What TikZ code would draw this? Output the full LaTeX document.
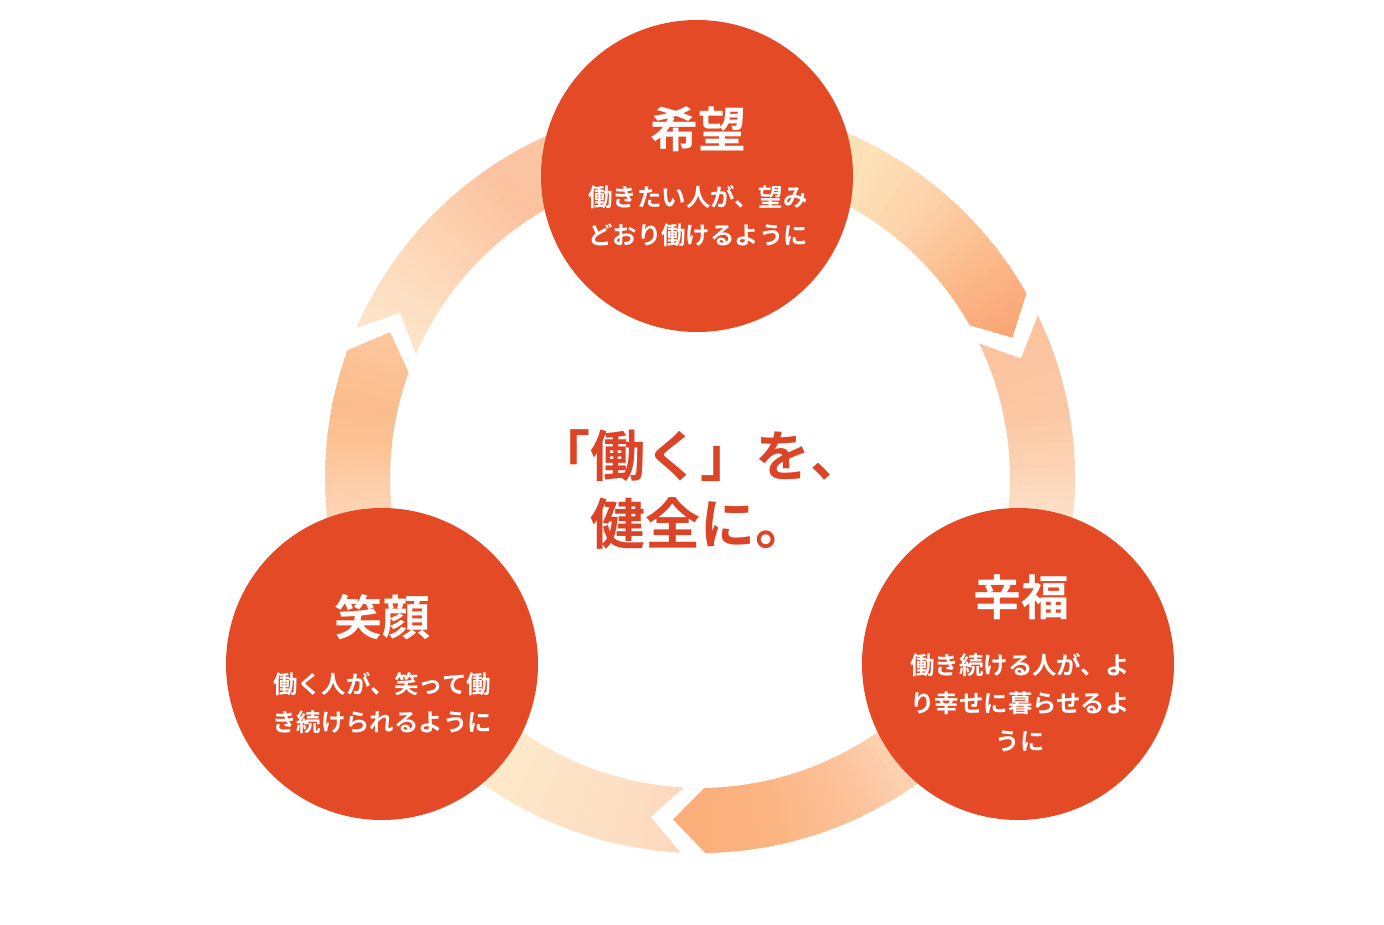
\documentclass[tikz,border=0pt]{standalone}
\usepackage{fontspec}
\setmainfont{Noto Sans CJK JP}[BoldFont={Noto Sans CJK JP Bold}]
\definecolor{circred}{HTML}{E34A25}
\definecolor{textred}{HTML}{DC4428}
% seg1 stops
\definecolor{aA}{HTML}{FDE6CC}\definecolor{aB}{HTML}{FDDCBE}\definecolor{aC}{HTML}{FCCDAA}\definecolor{aD}{HTML}{FBC29F}
\definecolor{aE}{HTML}{FDE1B7}\definecolor{aF}{HTML}{FDD2AA}\definecolor{aG}{HTML}{FCBB8B}\definecolor{aH}{HTML}{F9A273}
% seg2 stops
\definecolor{bA}{HTML}{FBC29E}\definecolor{bB}{HTML}{FCC8A4}\definecolor{bC}{HTML}{FDD5B7}\definecolor{bD}{HTML}{FDE0C8}
\definecolor{bE}{HTML}{FDD8BA}\definecolor{bF}{HTML}{FCC29A}\definecolor{bG}{HTML}{FBB37F}\definecolor{bH}{HTML}{FBAE7A}
% seg3 stops
\definecolor{cA}{HTML}{FDD6BA}\definecolor{cB}{HTML}{FDDFC3}\definecolor{cC}{HTML}{FDE8CA}\definecolor{cD}{HTML}{FDD3B2}
\definecolor{cE}{HTML}{FCC294}\definecolor{cF}{HTML}{FBBD8C}\definecolor{cG}{HTML}{FCC8A1}
\newcommand\ringseg[2]{plot[domain=#1:#2,samples=90] ({700+375*cos(\x)},{478+375*sin(\x)})
  -- ({700+342.5*cos(#2+5.3)},{478+342.5*sin(#2+5.3)})
  -- plot[domain=#2:#1,samples=90] ({700+310*cos(\x)},{478+310*sin(\x)})
  -- ({700+342.5*cos(#1+5.3)},{478+342.5*sin(#1+5.3)}) -- cycle}
\newcommand\ringfill[1]{%
  \foreach \a/\b/\ca/\cb in {#1}{%
    \foreach \t in {\a,...,\b}{%
      \pgfmathsetmacro\p{100*(\b-\t)/(\b-\a)}%
      \fill[\ca!\p!\cb] (700,478) -- ({700+400*cos(\t-0.7)},{478+400*sin(\t-0.7)})
        -- ({700+400*cos(\t+0.7)},{478+400*sin(\t+0.7)}) -- cycle;
    }%
  }%
}
\begin{document}
\begin{tikzpicture}[x=1pt,y=-1pt,
  circ/.style={circle,fill=circred,minimum size=312pt,inner sep=0pt},
  ttl/.style={text=white,font=\fontsize{48}{56}\selectfont\bfseries,inner sep=0pt},
  subtxt/.style={text=white,font=\fontsize{24.4}{38}\selectfont\bfseries,align=center,inner sep=0pt},
  ctr/.style={text=textred,font=\fontsize{55}{68}\selectfont\bfseries,align=center,inner sep=0pt}]
\useasboundingbox[fill=white] (0,0) rectangle (1384,924);
% ring segment 1 (left chevron -> over top -> top-right chevron)
\begin{scope}
  \clip \ringseg{203.6}{330.5};
  \ringfill{203/215/aA/aB,215/228/aB/aC,228/237/aC/aD,237/298/aD/aE,298/310/aE/aF,310/322/aF/aG,322/337/aG/aH}
\end{scope}
% ring segment 2 (top-right chevron -> right -> bottom chevron)
\begin{scope}
  \clip \ringseg{334.3}{449.2};
  \ringfill{334/350/bA/bB,350/360/bB/bC,360/366/bC/bD,366/412/bD/bE,412/425/bE/bF,425/440/bF/bG,440/456/bG/bH}
\end{scope}
% ring segment 3 (bottom chevron -> left -> left chevron)
\begin{scope}
  \clip \ringseg{93.0}{199.9};
  \ringfill{92/105/cA/cB,105/124/cB/cC,124/176/cC/cD,176/186/cD/cE,186/192/cE/cF,192/207/cF/cG}
\end{scope}
% circles
\node[circ] (kibo) at (697,176) {};
\node[circ] (kofuku) at (1018,664) {};
\node[circ] (egao) at (382,664) {};
% texts
\node[ttl] (kiboT) at (698,129) {希望};
\node[subtxt] (kiboS) at (698,216) {働きたい人が、望み\\どおり働けるように};
\node[ttl] (kofukuT) at (1021,597) {辛福};
\node[subtxt] (kofukuS) at (1020,702.5) {働き続ける人が、よ\\り幸せに暮らせるよ\\うに};
\node[ttl] (egaoT) at (382,617) {笑顔};
\node[subtxt] (egaoS) at (382,703.5) {働く人が、笑って働\\き続けられるように};
\node[ctr] (center) at (700,489.5) {「働く」を、\\健全に。};
\end{tikzpicture}
\end{document}
